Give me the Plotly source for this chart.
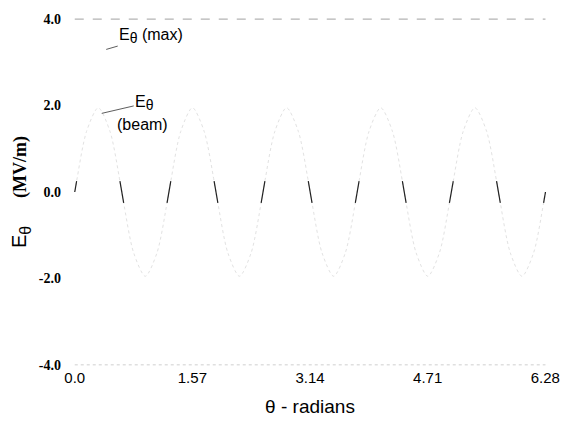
import plotly.graph_objects as go

# E_theta (beam) readings, MV/m, versus theta (radians)
theta_beam = [0.000, 0.025, 0.157, 0.314, 0.471, 0.603,
              0.628, 0.653, 0.785, 0.942, 1.099, 1.232,
              1.257, 1.282, 1.414, 1.571, 1.728, 1.860,
              1.885, 1.910, 2.042, 2.199, 2.356, 2.488,
              2.513, 2.538, 2.670, 2.827, 2.985, 3.117,
              3.142, 3.167, 3.299, 3.456, 3.613, 3.745,
              3.770, 3.795, 3.927, 4.084, 4.241, 4.373,
              4.398, 4.423, 4.555, 4.712, 4.869, 5.001,
              5.027, 5.052, 5.184, 5.341, 5.498, 5.630,
              5.655, 5.680, 5.812, 5.969, 6.126, 6.258,
              6.283]
e_beam = [0.0, 0.25, 1.40, 1.95, 1.40, 0.25,
          0.0, -0.25, -1.40, -1.95, -1.40, -0.25,
          0.0, 0.25, 1.40, 1.95, 1.40, 0.25,
          0.0, -0.25, -1.40, -1.95, -1.40, -0.25,
          0.0, 0.25, 1.40, 1.95, 1.40, 0.25,
          0.0, -0.25, -1.40, -1.95, -1.40, -0.25,
          0.0, 0.25, 1.40, 1.95, 1.40, 0.25,
          0.0, -0.25, -1.40, -1.95, -1.40, -0.25,
          0.0, 0.25, 1.40, 1.95, 1.40, 0.25,
          0.0, -0.25, -1.40, -1.95, -1.40, -0.25,
          0.0]

# E_theta (max) level lines
theta_max = [0.0, 6.283]
e_max_top = [4.0, 4.0]
e_max_bot = [-4.0, -4.0]

x_tickvals = [0.0, 1.57, 3.14, 4.71, 6.28]
x_ticktext = ["0.0", "1.57", "3.14", "4.71", "6.28"]
y_tickvals = [4.0, 2.0, 0.0, -2.0, -4.0]
y_ticktext = ["4.0", "2.0", "0.0", "-2.0", "-4.0"]

# near-zero portions (the visible dark strokes in the original)
x_dark, y_dark = [], []
for t, e in zip(theta_beam, e_beam):
    if abs(e) <= 0.3:
        x_dark.append(t); y_dark.append(e)
    else:
        if x_dark and x_dark[-1] is not None:
            x_dark.append(None); y_dark.append(None)

SANS = "Liberation Sans, Arial"
SUB = "<sub><span style='font-size:14px'>θ</span></sub>"

fig = go.Figure()
fig.add_trace(go.Scatter(x=theta_max, y=e_max_top, mode="lines",
                         line=dict(color="#b4b4b4", width=1.2, dash="dash"),
                         hoverinfo="skip"))
fig.add_trace(go.Scatter(x=theta_max, y=e_max_bot, mode="lines",
                         line=dict(color="#cfcfcf", width=1, dash="dot"),
                         hoverinfo="skip"))
fig.add_trace(go.Scatter(x=theta_beam, y=e_beam, mode="lines",
                         line=dict(color="#e2e2e2", width=1, dash="dot", shape="spline", smoothing=0.8),
                         hoverinfo="skip"))
fig.add_trace(go.Scatter(x=x_dark, y=y_dark, mode="lines", connectgaps=False,
                         line=dict(color="#222222", width=1.2),
                         hoverinfo="skip"))

fig.add_annotation(x=0.42, y=3.3, xref="x", yref="y",
                   text="E" + SUB + " (max)", showarrow=True, arrowhead=0,
                   arrowwidth=0.8, arrowcolor="#333", ax=45, ay=-13,
                   font=dict(family=SANS, size=16, color="black"))
fig.add_annotation(x=0.36, y=1.82, xref="x", yref="y",
                   text="E" + SUB, showarrow=True, arrowhead=0,
                   arrowwidth=0.8, arrowcolor="#333", ax=43, ay=-10,
                   font=dict(family=SANS, size=16, color="black"))
fig.add_annotation(x=0.36, y=1.82, xref="x", yref="y",
                   text="(beam)", showarrow=False, xshift=41, yshift=-11,
                   font=dict(family=SANS, size=16, color="black"))

fig.update_layout(
    width=572, height=425,
    margin=dict(l=74, r=16, t=12, b=54),
    paper_bgcolor="white", plot_bgcolor="white",
    showlegend=False,
    xaxis=dict(range=[-0.01, 6.29], tickvals=x_tickvals, ticktext=x_ticktext,
               showgrid=False, zeroline=False, showline=False, ticks="",
               tickfont=dict(family=SANS, size=15, color="black"),
               title=dict(text="θ - radians", standoff=14,
                          font=dict(family=SANS, size=19, color="black"))),
    yaxis=dict(range=[-4.05, 4.05], tickvals=y_tickvals, ticktext=y_ticktext,
               showgrid=False, zeroline=False, showline=False, ticks="",
               ticklabelstandoff=12,
               tickfont=dict(family="Liberation Serif, Times New Roman", size=14,
                             color="black", weight="bold"),
               title=dict(text="E<sub><span style='font-size:16px'>θ</span></sub>"
                               "&nbsp;&nbsp;&nbsp;&nbsp;&nbsp;"
                               "<span style='font-family:Liberation Serif;font-weight:bold;font-size:18px'>(MV/m)</span>",
                          standoff=6,
                          font=dict(family=SANS, size=20, color="black"))),
)

fig.write_html("out.html")
